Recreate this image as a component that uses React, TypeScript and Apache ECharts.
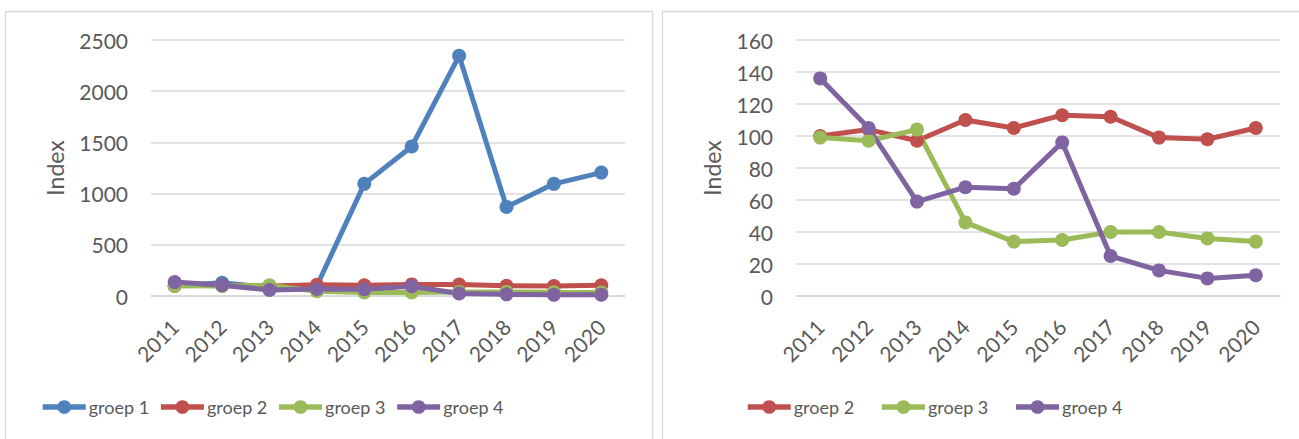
import React, { useEffect, useRef } from "react";
import * as echarts from "echarts";

const years = ["2011", "2012", "2013", "2014", "2015", "2016", "2017", "2018", "2019", "2020"];
const groep1 = [100, 130, 80, 100, 1095, 1460, 2345, 870, 1095, 1205];
const groep2 = [100, 104, 97, 110, 105, 113, 112, 99, 98, 105];
const groep3 = [99, 97, 104, 46, 34, 35, 40, 40, 36, 34];
const groep4 = [136, 105, 59, 68, 67, 96, 25, 16, 11, 13];

const leftLegend = ["groep 1", "groep 2", "groep 3", "groep 4"];
const rightLegend = ["groep 2", "groep 3", "groep 4"];

const COLORS: Record<string, string> = {
  "groep 1": "#4f81bd",
  "groep 2": "#c0504d",
  "groep 3": "#9bbb59",
  "groep 4": "#8064a2",
};

const FONT = "Lato";
const TEXT = "#595959";
const GRID = "#d9d9d9";

function mkSeries(name: string, data: number[], idx: number) {
  return {
    name,
    type: "line",
    xAxisIndex: idx,
    yAxisIndex: idx,
    data,
    symbol: "circle",
    symbolSize: 14,
    showAllSymbol: true,
    lineStyle: { color: COLORS[name], width: 5 },
    itemStyle: { color: COLORS[name] },
  };
}

export default function App() {
  const ref = useRef<HTMLDivElement>(null);
  useEffect(() => {
    if (!ref.current) return;
    const chart = echarts.init(ref.current, undefined, { renderer: "svg" });
    const xAxis = (gi: number) => ({
      type: "category",
      gridIndex: gi,
      data: years,
      boundaryGap: true,
      axisLine: { show: true, lineStyle: { color: GRID, width: 1.5 } },
      axisTick: { show: false },
      axisLabel: { rotate: 45, margin: 27, fontSize: 21, fontFamily: FONT, color: TEXT },
    });
    const yAxis = (gi: number, max: number, interval: number, nameGap: number) => ({
      type: "value",
      gridIndex: gi,
      min: 0,
      max,
      interval,
      name: "Index",
      nameLocation: "middle",
      nameGap,
      nameTextStyle: { fontSize: 23, fontFamily: FONT, color: TEXT },
      axisLine: { show: false },
      axisTick: { show: false },
      splitLine: { lineStyle: { color: GRID, width: 1.5 } },
      axisLabel: {
        margin: 23,
        fontSize: 21,
        fontFamily: FONT,
        color: TEXT,
        formatter: (v: number) => String(v),
      },
    });
    const legendBase = {
      orient: "horizontal",
      top: 398,
      padding: 0,
      itemWidth: 43,
      itemHeight: 17,
      lineStyle: { width: 5.5 },
      textStyle: { fontSize: 18, fontFamily: FONT, color: TEXT, padding: [0, 0, 0, -2] },
    };
    chart.setOption({
      animation: false,
      backgroundColor: "#ffffff",
      graphic: [
        {
          type: "rect",
          shape: { x: 5.5, y: 11.5, width: 647, height: 440 },
          style: { fill: "none", stroke: GRID, lineWidth: 1.3 },
          silent: true,
        },
        {
          type: "rect",
          shape: { x: 662.5, y: 11.5, width: 645, height: 440 },
          style: { fill: "none", stroke: GRID, lineWidth: 1.3 },
          silent: true,
        },
      ],
      grid: [
        { left: 151, width: 474, top: 40, height: 256, containLabel: false },
        { left: 796, width: 484, top: 40, height: 256, containLabel: false },
      ],
      xAxis: [xAxis(0), xAxis(1)],
      yAxis: [yAxis(0, 2500, 500, 85), yAxis(1, 160, 20, 73)],
      legend: [
        { ...legendBase, left: 40, itemGap: 9, data: leftLegend },
        { ...legendBase, left: 745, itemGap: 25, data: rightLegend },
      ],
      series: [
        mkSeries("groep 1", groep1, 0),
        mkSeries("groep 2", groep2, 0),
        mkSeries("groep 3", groep3, 0),
        mkSeries("groep 4", groep4, 0),
        mkSeries("groep 2", groep2, 1),
        mkSeries("groep 3", groep3, 1),
        mkSeries("groep 4", groep4, 1),
      ],
    });
    return () => chart.dispose();
  }, []);
  return (
    <div
      ref={ref}
      style={{ position: "absolute", left: 0, top: 0, width: 1299, height: 439, background: "#fff" }}
    />
  );
}
